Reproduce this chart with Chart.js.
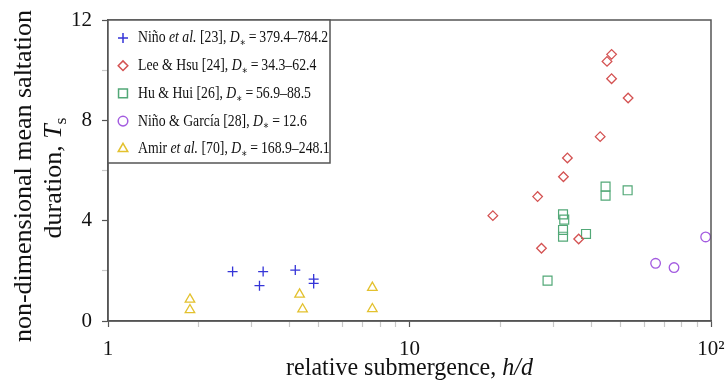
<!DOCTYPE html>
<html>
<head>
<meta charset="utf-8">
<script src="https://cdn.jsdelivr.net/npm/chart.js@4"></script>
<style>
  html, body { margin: 0; padding: 0; background: #fff; }
  #wrap { width: 725px; height: 386px; }
</style>
</head>
<body>
<div id="wrap"><canvas id="saltationChart"></canvas></div>
<script>
// h/d and T_s
const ninoX = [2.59, 3.27, 3.18, 4.18, 4.81, 4.81];
const ninoY = [1.97, 1.97, 1.41, 2.03, 1.67, 1.50];
const leeX = [46.8, 45.2, 46.8, 53.1, 42.9, 33.4, 32.4, 26.6, 18.9, 27.4, 36.4];
const leeY = [10.63, 10.35, 9.66, 8.89, 7.35, 6.50, 5.75, 4.96, 4.20, 2.90, 3.27];
const huX = [44.7, 44.7, 52.9, 32.3, 32.6, 32.3, 32.3, 38.5, 28.7];
const huY = [5.36, 5.00, 5.21, 4.25, 4.04, 3.63, 3.36, 3.47, 1.61];
const garciaX = [96.0, 65.5, 75.4];
const garciaY = [3.35, 2.30, 2.13];
const amirX = [1.87, 1.87, 4.32, 4.42, 7.53, 7.53];
const amirY = [0.86, 0.44, 1.06, 0.47, 1.33, 0.48];

// _x_ = italic, ~x~ = subscript
const legendLabels = [
    'Niño _et al._ [23], _D_~∗~\u2009=\u2009379.4–784.2',
    'Lee & Hsu [24], _D_~∗~\u2009=\u200934.3–62.4',
    'Hu & Hui [26], _D_~∗~\u2009=\u200956.9–88.5',
    'Niño & García [28], _D_~∗~\u2009=\u200912.6',
    'Amir _et al._ [70], _D_~∗~\u2009=\u2009168.9–248.1'
];
const xTickLabels = { 1: '1', 10: '10', 100: '10²' };
const yTickLabels = [0, 4, 8, 12];
const xTitle = 'relative submergence, _h/d_';
const yTitle = ['non-dimensional mean saltation', 'duration, _T_~s~'];

const serif = '"Liberation Serif", "DejaVu Serif", serif';

function pts(xs, ys) {
    return xs.map((x, i) => ({ x: x, y: ys[i] }));
}

function parseRich(str) {
    return str.split(/(_[^_]+_|~[^~]+~)/).filter(s => s).map(s => {
        if (s[0] === '_') return { t: s.slice(1, -1), it: true };
        if (s[0] === '~') return { t: s.slice(1, -1), sub: true };
        return { t: s };
    });
}

function richWidth(ctx, str, size) {
    let w = 0;
    parseRich(str).forEach(s => {
        const fs = s.sub ? size * 0.68 : size;
        ctx.font = (s.it ? 'italic ' : '') + fs + 'px ' + serif;
        w += ctx.measureText(s.t).width;
    });
    return w;
}

function drawRich(ctx, str, x, y, size, sx, baseline) {
    ctx.save();
    ctx.translate(x, y);
    ctx.scale(sx, 1);
    ctx.textBaseline = baseline || 'middle';
    ctx.textAlign = 'left';
    ctx.fillStyle = '#111';
    let cx = 0;
    parseRich(str).forEach(s => {
        const fs = s.sub ? size * 0.68 : size;
        ctx.font = (s.it ? 'italic ' : '') + fs + 'px ' + serif;
        ctx.fillText(s.t, cx, s.sub ? size * 0.3 : 0);
        cx += ctx.measureText(s.t).width;
    });
    ctx.restore();
}

const framePlugin = {
    id: 'frame',
    afterDraw(chart) {
        const { ctx, chartArea: a } = chart;
        ctx.save();
        ctx.strokeStyle = '#555';
        ctx.lineWidth = 1.5;
        ctx.strokeRect(a.left, a.top, a.right - a.left, a.bottom - a.top);

        // legend box in upper left corner
        const lw = 222, lh = 143;
        ctx.fillStyle = '#fff';
        ctx.fillRect(a.left, a.top, lw, lh);
        ctx.strokeRect(a.left, a.top, lw, lh);
        chart.data.datasets.forEach((ds, i) => {
            const y = a.top + 18 + i * 27.7;
            ctx.strokeStyle = ds.borderColor;
            ctx.fillStyle = 'rgba(0,0,0,0)';
            Chart.helpers.drawPoint(ctx, {
                pointStyle: ds.pointStyle,
                radius: ds.pointRadius,
                borderWidth: ds.borderWidth,
                rotation: 0
            }, a.left + 15, y);
            drawRich(ctx, legendLabels[i], a.left + 30, y, 17, 0.81);
        });

        // axis titles
        const cx = (a.left + a.right) / 2;
        const tw = richWidth(ctx, xTitle, 25) * 0.96;
        drawRich(ctx, xTitle, cx - tw / 2, 375, 25, 0.96, 'alphabetic');

        [[24, 176], [54, 178]].forEach((p, i) => {
            const w = richWidth(ctx, yTitle[i], 26);
            ctx.save();
            ctx.translate(p[0], p[1]);
            ctx.rotate(-Math.PI / 2);
            drawRich(ctx, yTitle[i], -w / 2, 0, 26, 1);
            ctx.restore();
        });
        ctx.restore();
    }
};

const ctx = document.getElementById('saltationChart');
new Chart(ctx, {
    type: 'scatter',
    data: {
        datasets: [
            { label: 'Niño et al. [23]', data: pts(ninoX, ninoY), pointStyle: 'cross', pointRadius: 5, borderColor: '#3535d8', borderWidth: 1.3 },
            { label: 'Lee & Hsu [24]', data: pts(leeX, leeY), pointStyle: 'rectRot', pointRadius: 4.8, borderColor: '#d45252', borderWidth: 1.3 },
            { label: 'Hu & Hui [26]', data: pts(huX, huY), pointStyle: 'rect', pointRadius: 6.3, borderColor: '#52a877', borderWidth: 1.2 },
            { label: 'Niño & García [28]', data: pts(garciaX, garciaY), pointStyle: 'circle', pointRadius: 4.8, borderColor: '#a35be0', borderWidth: 1.3 },
            { label: 'Amir et al. [70]', data: pts(amirX, amirY), pointStyle: 'triangle', pointRadius: 5.5, borderColor: '#e3c12e', borderWidth: 1.3 }
        ].map(d => Object.assign(d, { backgroundColor: 'rgba(0,0,0,0)', pointHoverRadius: d.pointRadius }))
    },
    options: {
        responsive: true,
        maintainAspectRatio: false,
        animation: false,
        layout: { padding: { left: 0, top: 20, right: 14, bottom: 0 } },
        plugins: {
            legend: { display: false },
            tooltip: { enabled: false }
        },
        scales: {
            x: {
                type: 'logarithmic',
                min: 1,
                max: 100,
                afterBuildTicks(scale) {
                    const t = [];
                    [1, 10].forEach(d => { for (let k = 1; k < 10; k++) t.push({ value: k * d }); });
                    t.push({ value: 100 });
                    scale.ticks = t;
                },
                afterFit(scale) {
                    scale.height = 65;
                    scale.paddingLeft = 0;
                    scale.paddingRight = 0;
                },
                border: { display: true, color: '#555', width: 1.5 },
                grid: {
                    drawOnChartArea: false,
                    tickLength: 6,
                    tickWidth: 1.2,
                    color: c => (c.tick && xTickLabels[c.tick.value]) ? '#555' : '#c8c8c8'
                },
                ticks: {
                    autoSkip: false,
                    maxRotation: 0,
                    padding: 10,
                    color: '#111',
                    font: { family: serif, size: 21 },
                    callback: v => xTickLabels[v] || ''
                }
            },
            y: {
                min: 0,
                max: 12,
                afterFit(scale) {
                    scale.width = 108;
                    scale.paddingTop = 0;
                    scale.paddingBottom = 0;
                },
                border: { display: true, color: '#555', width: 1.5 },
                grid: {
                    drawOnChartArea: false,
                    tickLength: 6,
                    tickWidth: 1.2,
                    color: c => (c.tick && yTickLabels.includes(c.tick.value)) ? '#555' : '#c8c8c8'
                },
                ticks: {
                    stepSize: 1,
                    padding: 10,
                    color: '#111',
                    font: { family: serif, size: 21 },
                    callback: v => yTickLabels.includes(v) ? String(v) : ''
                }
            }
        }
    },
    plugins: [framePlugin]
});
</script>
</body>
</html>
